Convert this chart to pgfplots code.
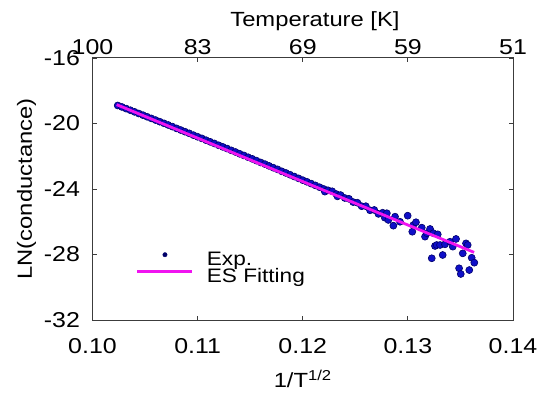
\documentclass[border=0pt]{standalone}
\usepackage{fontspec}
\setmainfont{Liberation Sans}[FakeStretch=1.16]
\usepackage{pgfplots}
\pgfplotsset{compat=1.18}
\definecolor{navyd}{RGB}{0,0,105}
\definecolor{bandblue}{RGB}{15,15,200}
\definecolor{pinkl}{RGB}{240,20,240}
\definecolor{axgray}{RGB}{60,60,60}
\pgfplotsset{
  dotleg/.style={legend image code/.code={\path (0pt,0pt) (68pt,0pt); \draw[##1, mark size=2.2pt, mark options={fill=navyd}] plot coordinates {(27.5pt,6.5pt)};}},
  lineleg/.style={legend image code/.code={\draw[##1] (0pt,6.5pt) -- (55pt,6.5pt); \path (68pt,0pt);}},
}
\begin{document}
\begin{tikzpicture}
\pgfplotsset{
  common/.style={
    scale only axis, width=420.5pt, height=262pt,
    xmin=0.10, xmax=0.14, ymin=-32, ymax=-16,
    axis line style={axgray, line width=1pt},
    tick style={axgray, line width=0.8pt},
    major tick length=4pt,
    tick align=inside,
    clip mode=individual,
    /pgf/number format/assume math mode=true,
    tick label style={font=\fontsize{21.5}{21.5}\selectfont},
  }
}
\begin{axis}[common, name=ax,
  xtick={0.10,0.11,0.12,0.13,0.14},
  xticklabels={0.10,0.11,0.12,0.13,0.14},
  ytick={-32,-28,-24,-20,-16},
  yticklabels={-32,-28,-24,-20,-16},
  xtick pos=both, xticklabel pos=lower,
  ytick pos=both, yticklabel pos=left,
  xticklabel style={yshift=-15pt},
  yticklabel style={xshift=-9pt},
  xlabel={1/T\textsuperscript{1/2}},
  ylabel={LN(conductance)},
  every axis x label/.style={at={(axis description cs:0.5,-0.2595)}, anchor=base, font=\fontsize{20.5}{20.5}\selectfont},
  every axis y label/.style={at={(axis description cs:-0.157,0.5)}, anchor=center, rotate=90, font=\fontsize{20.5}{20.5}\selectfont},
  legend style={at={(0.096,0.266)}, anchor=north west, draw=none, fill=none,
    font=\fontsize{19.5}{19.5}\selectfont, row sep=0pt,
    nodes={inner sep=0pt, text height=13pt, text depth=4pt}},
  legend cell align=left,
]
\addplot[only marks, mark=*, mark size=3.5pt, draw=navyd, fill=bandblue,
  mark options={draw=navyd, fill=bandblue, line width=0.6pt}, dotleg]
coordinates {
(0.1024,-18.90) (0.1028,-18.99) (0.1032,-19.09) (0.1036,-19.19) (0.1040,-19.29)
(0.1044,-19.39) (0.1048,-19.49) (0.1052,-19.59) (0.1056,-19.69) (0.1060,-19.79)
(0.1064,-19.89) (0.1068,-19.99) (0.1072,-20.09) (0.1076,-20.19) (0.1080,-20.30)
(0.1084,-20.40) (0.1088,-20.50) (0.1092,-20.60) (0.1096,-20.71) (0.1100,-20.81)
(0.1104,-20.91) (0.1108,-21.02) (0.1112,-21.12) (0.1116,-21.22) (0.1120,-21.33)
(0.1124,-21.43) (0.1128,-21.53) (0.1132,-21.64) (0.1136,-21.74) (0.1140,-21.85)
(0.1144,-21.95) (0.1148,-22.06) (0.1152,-22.16) (0.1156,-22.27) (0.1160,-22.38)
(0.1164,-22.48) (0.1168,-22.59) (0.1172,-22.70) (0.1176,-22.80) (0.1180,-22.92)
(0.1184,-23.02) (0.1188,-23.13) (0.1192,-23.24) (0.1196,-23.35) (0.1200,-23.46)
(0.1204,-23.56) (0.1208,-23.67) (0.1212,-23.78) (0.1216,-23.89) (0.1220,-24.00)
(0.1221,-24.16) (0.1224,-24.08) (0.1228,-24.14) (0.1232,-24.31) (0.1233,-24.45)
(0.1236,-24.37) (0.1240,-24.55) (0.1244,-24.60) (0.1248,-24.80) (0.1252,-24.84)
(0.1256,-25.05) (0.1260,-25.05) (0.1264,-25.30) (0.1268,-25.28) (0.1272,-25.52)
(0.1276,-25.45) (0.1278,-25.75) (0.1280,-25.48) (0.12814,-25.89) (0.12862,-26.24)
(0.12878,-25.69) (0.12925,-26.00) (0.12998,-25.63) (0.13042,-26.61) (0.13052,-26.20)
(0.13077,-26.03) (0.13132,-26.36) (0.13163,-26.91) (0.13180,-26.70) (0.13211,-26.44)
(0.13227,-28.23) (0.13242,-26.70) (0.13258,-27.48) (0.13274,-27.42) (0.13284,-26.77)
(0.13306,-27.42) (0.13331,-28.03) (0.13353,-27.38) (0.13401,-27.22) (0.13427,-27.52)
(0.13458,-27.05) (0.13487,-28.84) (0.13503,-29.19) (0.13522,-27.93) (0.13553,-27.32)
(0.13569,-27.42) (0.13584,-28.95) (0.13607,-28.20) (0.13632,-28.50)
};
\addlegendentry{Exp.}
\addplot[pinkl, line width=2.8pt, lineleg]
coordinates {(0.1023,-18.85) (0.1363,-27.87)};
\addlegendentry{ES Fitting}
\end{axis}
\begin{axis}[common,
  axis x line*=top, axis y line=none,
  xtick={0.10,0.11,0.12,0.13,0.14},
  xticklabels={100,83,69,59,51},
  xlabel={Temperature [K]},
  every axis x label/.style={at={(axis description cs:0.529,1.122)}, anchor=base, font=\fontsize{20.5}{20.5}\selectfont},
]
\end{axis}
\pgfresetboundingbox
\path[use as bounding box] ([xshift=-92.5pt,yshift=-75pt]ax.south west) rectangle ([xshift=36pt,yshift=58pt]ax.north east);
\end{tikzpicture}
\end{document}
